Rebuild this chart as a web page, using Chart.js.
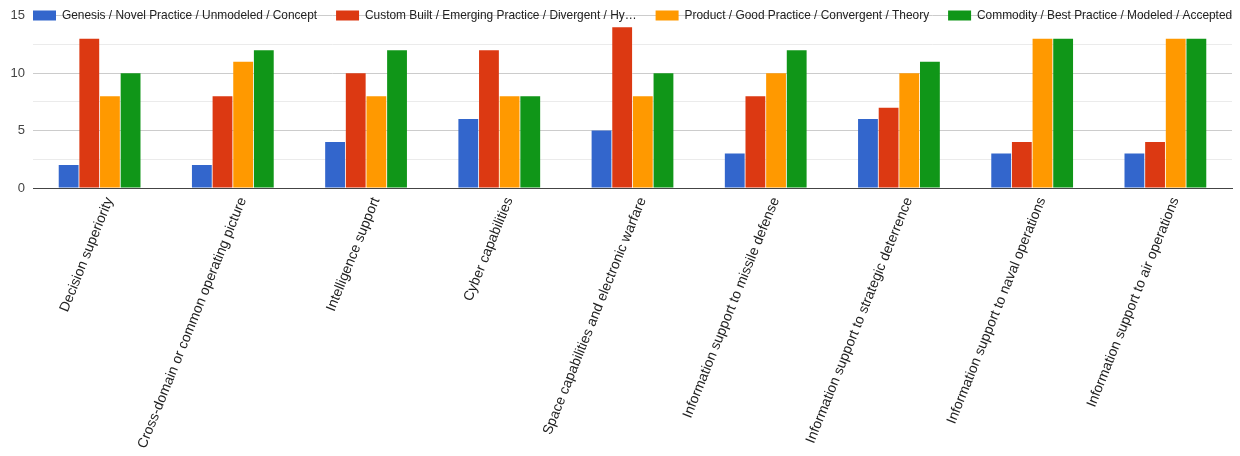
<!DOCTYPE html>
<html>
<head>
<meta charset="utf-8">
<script src="https://cdn.jsdelivr.net/npm/chart.js@4/dist/chart.umd.min.js"></script>
<style>
  body { margin: 0; background: #fff; }
  #chart { display: block; }
</style>
</head>
<body>
<canvas id="chart" width="1240" height="456"></canvas>
<script>
const categories = [
  'Decision superiority',
  'Cross-domain or common operating picture',
  'Intelligence support',
  'Cyber capabilities',
  'Space capabilities and electronic warfare',
  'Information support to missile defense',
  'Information support to strategic deterrence',
  'Information support to naval operations',
  'Information support to air operations'
];

const seriesNames = [
  'Genesis / Novel Practice / Unmodeled / Concept',
  'Custom Built / Emerging Practice / Divergent / Hy\u2026',
  'Product / Good Practice / Convergent / Theory',
  'Commodity / Best Practice / Modeled / Accepted'
];

const genesis   = [2, 2, 4, 6, 5, 3, 6, 3, 3];
const custom    = [13, 8, 10, 12, 14, 8, 7, 4, 4];
const product   = [8, 11, 8, 8, 8, 10, 10, 13, 13];
const commodity = [10, 12, 12, 8, 10, 12, 11, 13, 13];

const seriesColors = ['#3366cc', '#dc3912', '#ff9900', '#109618'];
const yTicks = [0, 5, 10, 15];

const FONT = 'Arial, "Liberation Sans", sans-serif';
const LEGEND_PAD = 19;

// legend sits on top of the plot (on the 15 gridline), like the original
const legendOverlay = {
  id: 'legendOverlay',
  afterInit(chart) {
    const legend = chart.legend;
    const fit = legend.fit;
    legend.fit = function () {
      this.maxWidth = 4000; // keep all four items on one row
      fit.call(this);
      this.height = 0;
    };
  },
  afterLayout(chart) {
    const legend = chart.legend;
    const lw = legend.lineWidths[0];
    legend.left = 33 - LEGEND_PAD - 1;
    legend.right = legend.left + lw + LEGEND_PAD + 2;
    legend.top = 15 - LEGEND_PAD - 5.5;
    legend.bottom = legend.top + 50;
    legend.width = legend.right - legend.left;
    legend.height = 0;
  }
};

const datasets = [genesis, custom, product, commodity].map((values, i) => ({
  label: seriesNames[i],
  data: values,
  backgroundColor: seriesColors[i],
  borderWidth: 0,
  categoryPercentage: 0.62,
  barPercentage: 0.96
}));

new Chart(document.getElementById('chart'), {
  type: 'bar',
  data: { labels: categories, datasets: datasets },
  plugins: [legendOverlay],
  options: {
    responsive: false,
    animation: false,
    layout: { padding: { left: 0, right: 8, top: 15, bottom: 0 } },
    plugins: {
      tooltip: { enabled: false },
      legend: {
        position: 'top',
        align: 'center',
        labels: {
          boxWidth: 23,
          boxHeight: 10,
          padding: LEGEND_PAD,
          color: '#222',
          font: { family: FONT, size: 11.9 }
        }
      }
    },
    scales: {
      x: {
        grid: { display: false, drawTicks: false },
        border: { display: true, color: '#444', width: 1 },
        ticks: {
          autoSkip: false,
          minRotation: 68,
          maxRotation: 68,
          labelOffset: 10,
          padding: 7,
          color: '#222',
          font: { family: FONT, size: 14 }
        },
        afterFit(scale) { scale.height = 268; }
      },
      y: {
        min: 0,
        max: 15,
        border: { display: false },
        grid: {
          drawTicks: false,
          color: ctx => (ctx.tick.value % 5 === 0 ? '#cccccc' : '#ebebeb')
        },
        ticks: {
          stepSize: 2.5,
          padding: 8,
          color: '#444',
          font: { family: FONT, size: 13 },
          callback: v => (yTicks.includes(v) ? v : '')
        },
        afterFit(scale) { scale.width = 33; }
      }
    }
  }
});
</script>
</body>
</html>
